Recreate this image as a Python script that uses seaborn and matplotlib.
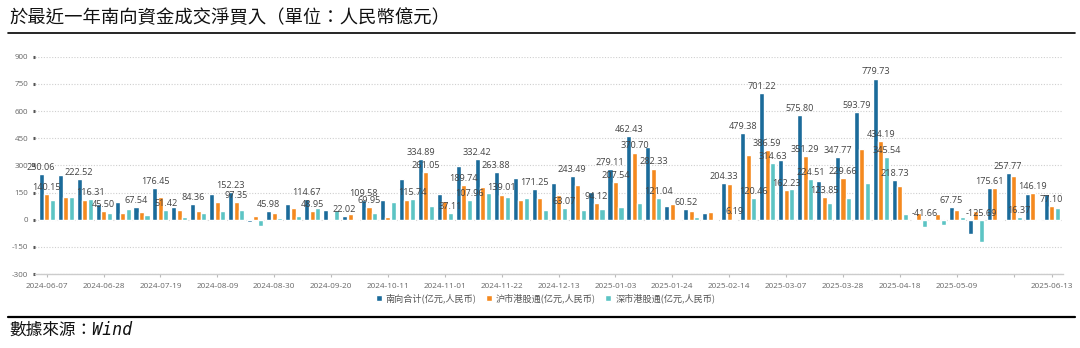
import matplotlib
matplotlib.use("Agg")
import matplotlib.pyplot as plt
import matplotlib.lines as mlines
import seaborn as sns
import pandas as pd

# ---------------- data ----------------
dates = [
    "2024-06-07", "2024-06-14", "2024-06-21", "2024-06-28", "2024-07-05", "2024-07-12",
    "2024-07-19", "2024-07-26", "2024-08-02", "2024-08-09", "2024-08-16", "2024-08-23",
    "2024-08-30", "2024-09-06", "2024-09-13", "2024-09-20", "2024-09-27", "2024-10-04",
    "2024-10-11", "2024-10-18", "2024-10-25", "2024-11-01", "2024-11-08", "2024-11-15",
    "2024-11-22", "2024-11-29", "2024-12-06", "2024-12-13", "2024-12-20", "2024-12-27",
    "2025-01-03", "2025-01-10", "2025-01-17", "2025-01-24", "2025-01-31", "2025-02-07",
    "2025-02-14", "2025-02-21", "2025-02-28", "2025-03-07", "2025-03-14", "2025-03-21",
    "2025-03-28", "2025-04-04", "2025-04-11", "2025-04-18", "2025-04-25", "2025-05-02",
    "2025-05-09", "2025-05-16", "2025-05-23", "2025-05-30", "2025-06-06", "2025-06-13",
]

total = [250.06, 248, 222.52, 84, 100, 67.54, 176.45, 72, 84.36, 141, 152.23, -13,
         45.98, 85, 114.67, 55, 22.02, 109.58, 110, 223.74, 334.89, 140, 297.70, 332.42,
         263.88, 228, 171.25, 200, 243.49, 155, 279.11, 462.43, 403.37, 76, 60.52, 38,
         204.33, 479.38, 701.22, 330.23, 575.80, 215, 347.77, 593.79, 779.73, 218.73, -3.86, 4,
         67.75, -80, 175.61, 257.77, 139.2, 141]

shanghai = [140.15, 123, 106.21, 45.50, 39, 43, 125.03, 56, 49, 95, 97.35, 22,
            37, 65, 48.95, 0.5, 30, 69.95, 14, 108, 261.05, 102.89, 189.74, 183,
            139.01, 109, 118, 136.93, 190, 94.12, 207.54, 370.70, 282.33, 84, 48, 44,
            198.14, 358.92, 386.59, 162.23, 351.29, 123.85, 229.66, 393, 434.19, 186, 37.8, 33,
            52, 45.69, 174, 241.40, 146.19, 77.10]

shenzhen = [109.91, 125, 116.31, 38.5, 61, 24.54, 51.42, 16, 35.36, 46, 54.88, -35,
            8.98, 20, 65.72, 54.5, -7.98, 39.63, 96, 115.74, 73.84, 37.11, 107.96, 149.42,
            124.87, 119, 53.25, 63.07, 53.49, 60.88, 71.57, 91.73, 121.04, -8, 12.52, -6,
            6.19, 120.46, 314.63, 168, 224.51, 91.15, 118.11, 200.79, 345.54, 32.73, -41.66, -29,
            15.75, -125.69, 1.61, 16.37, -7, 63.9]

series_names = ["南向合计(亿元,人民币)", "沪市港股通(亿元,人民币)", "深市港股通(亿元,人民币)"]
colors = ["#1b6b9a", "#f5891f", "#5cc4c4"]

# indices of bars that carry a value label (as in the reference)
label_total = [0, 2, 5, 6, 8, 10, 12, 14, 16, 17, 20, 23, 24, 26, 28, 30, 31, 34, 36, 37,
               38, 40, 42, 43, 44, 45, 48, 50, 51]
label_sh = [0, 3, 10, 14, 17, 20, 22, 24, 29, 30, 31, 32, 38, 39, 40, 41, 42, 44, 52, 53]
label_sz = [2, 6, 19, 21, 22, 27, 32, 36, 37, 38, 40, 44, 46, 49, 51]

tick_idx = list(range(0, 52, 3)) + [53]
y_ticks = [-300, -150, 0, 150, 300, 450, 600, 750, 900]

title = "於最近一年南向資金成交淨買入（單位：人民幣億元）"
source = "數據來源：Wind"

# ---------------- figure ----------------
sns.set_theme(style="white")
plt.rcParams["font.family"] = ["Open Sans", "Noto Sans CJK SC", "DejaVu Sans"]

df = pd.DataFrame({
    "date": dates * 3,
    "value": total + shanghai + shenzhen,
    "series": [series_names[0]] * len(dates) + [series_names[1]] * len(dates)
              + [series_names[2]] * len(dates),
})

fig = plt.figure(figsize=(10.8, 3.48), dpi=100)
ax = fig.add_axes([0.0327, 0.2126, 0.9515, 0.6244])

sns.barplot(data=df, x="date", y="value", hue="series", order=dates,
            hue_order=series_names, palette=colors, width=0.87, gap=0.08,
            errorbar=None, saturation=1, ax=ax)

ax.set_xlim(-0.6, 53.6)
ax.set_ylim(-300, 900)
ax.set_yticks(y_ticks)
ax.set_yticklabels([str(v) for v in y_ticks])
ax.set_xticks(tick_idx)
ax.set_xticklabels([dates[i] if i != 51 else "" for i in tick_idx])
ax.set_xlabel("")
ax.set_ylabel("")

ax.yaxis.grid(True, linestyle=(0, (1, 1.5)), color="#cfcfcf", linewidth=0.8)
ax.set_axisbelow(True)
for s in ["top", "right", "left"]:
    ax.spines[s].set_visible(False)
ax.spines["bottom"].set_color("#cccccc")
ax.spines["bottom"].set_linewidth(1.0)

ax.tick_params(axis="y", length=1.6, width=2.2, color="#555555", labelsize=5.8,
               labelcolor="#666666", pad=3.5, left=True)
ax.tick_params(axis="x", length=2.5, width=0.8, color="#bbbbbb", labelsize=5.9,
               labelcolor="#666666", pad=4, bottom=True)

# value labels
label_sets = [label_total, label_sh, label_sz]
value_sets = [total, shanghai, shenzhen]
for cont, idxs, vals in zip(ax.containers, label_sets, value_sets):
    for i in idxs:
        p = cont.patches[i]
        x = p.get_x() + p.get_width() / 2
        top = max(p.get_y() + p.get_height(), p.get_y())
        ax.annotate(f"{vals[i]:.2f}", xy=(x, top), xytext=(0, 1.5),
                    textcoords="offset points", ha="center", va="bottom",
                    fontsize=6.6, color="#444444")

# legend
handles, labels = ax.get_legend_handles_labels()
if ax.get_legend() is not None:
    ax.get_legend().remove()
fig.legend(handles, labels, loc="center", bbox_to_anchor=(0.505, 0.143), ncol=3,
           frameon=False, handlelength=0.7, handleheight=0.7,
           handletextpad=0.4, columnspacing=1.0, labelcolor="#555555",
           prop={"family": ["Noto Sans CJK SC", "DejaVu Sans"], "size": 6.6})

# title, rules and source
fig.text(0.009, 0.948, title, fontsize=13.2, va="center", ha="left", color="#111111",
         family=["Noto Sans CJK TC", "DejaVu Sans"])
fig.add_artist(mlines.Line2D([0.007, 0.995], [0.905, 0.905], color="black", lw=1.2,
                             transform=fig.transFigure))
fig.add_artist(mlines.Line2D([0.007, 0.995], [0.09, 0.09], color="black", lw=1.6,
                             transform=fig.transFigure))
fig.text(0.009, 0.052, source, fontsize=12, va="center", ha="left", color="#111111",
         style="italic", family=["DejaVu Sans Mono", "Noto Sans CJK TC"])

fig.savefig("out.png", dpi=100)
